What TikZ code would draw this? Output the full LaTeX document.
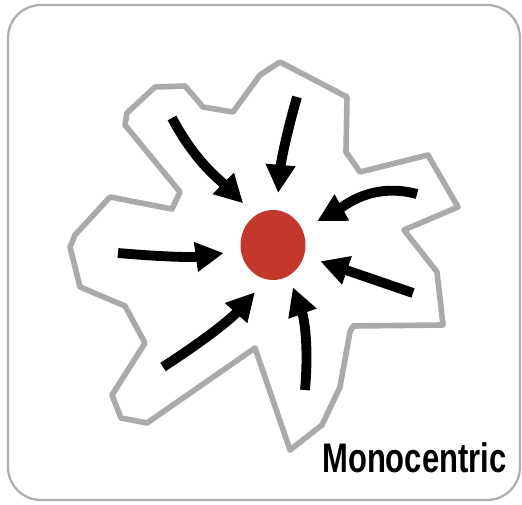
\documentclass[tikz,border=0pt]{standalone}
\usepackage{fontspec}
\setsansfont{Liberation Sans}
\newfontfamily\captionfont[FakeStretch=0.75]{Liberation Sans}
\usetikzlibrary{arrows.meta,shapes.geometric}
\definecolor{coreRed}{RGB}{196,55,45}
\definecolor{edgeGray}{RGB}{170,170,170}
\definecolor{frameGray}{RGB}{175,175,175}

\begin{document}
\begin{tikzpicture}[
    x=0.02cm, y=0.02cm,
    frame/.style={draw=frameGray, line width=1.3pt, rounded corners=0.66cm},
    outline/.style={draw=edgeGray, line width=3.2pt, line join=round},
    core/.style={ellipse, fill=coreRed, minimum width=1.3cm, minimum height=1.4cm, inner sep=0pt},
    flow/.style={-{Triangle[length=16pt, width=16pt]}, line width=5.6pt, shorten >=0.34cm},
    caption/.style={font=\captionfont\bfseries\fontsize{23.5}{26}\selectfont, fill=white, inner xsep=0.12cm, inner ysep=0.18cm, anchor=base west},
]
\useasboundingbox (0,0) rectangle (522,505);

% Frame
\draw[frame] (8,5) rectangle (520,500);

% City outline
\draw[outline] (280,443) -- (347,408) -- (346,353) -- (360,333) -- (428,350)
  -- (458,298) -- (404,275) -- (437,233) -- (443,180) -- (353,179)
  -- (350,173) -- (340,118) -- (322,80) -- (290,55) -- (255,157)
  -- (147,82) -- (121,87) -- (112,110) -- (145,162) -- (125,199)
  -- (80,218) -- (70,258) -- (75,270) -- (110,308) -- (172,296)
  -- (180,313) -- (125,380) -- (127,392) -- (155,418) -- (185,419)
  -- (203,398) -- (233,393) -- (260,430) -- cycle;

% Centre
\node[core] (hub) at (273,260) {};

% Tails of the flows
\coordinate (t1) at (172,387);
\coordinate (t2) at (297,408);
\coordinate (t3) at (417,311);
\coordinate (t4) at (413,212);
\coordinate (t5) at (305,115);
\coordinate (t6) at (163,138);
\coordinate (t7) at (118,252);

% Flows towards the centre
\draw[flow] (t1) to[out=-62, in=135] (hub.121);
\draw[flow] (t2) to[out=-106, in=85] (hub.84);
\draw[flow] (t3) to[out=165, in=29] (hub.28);
\draw[flow] (t4) -- (hub);
\draw[flow, shorten >=0.24cm] (t5) to[out=85, in=-70] (hub.-63);
\draw[flow] (t6) to[out=33, in=-132] (hub.-101);
\draw[flow] (t7) to[out=-5, in=188] (hub.190);

\node[caption] (name) at (316,32) {Monocentric};

\end{tikzpicture}
\end{document}
